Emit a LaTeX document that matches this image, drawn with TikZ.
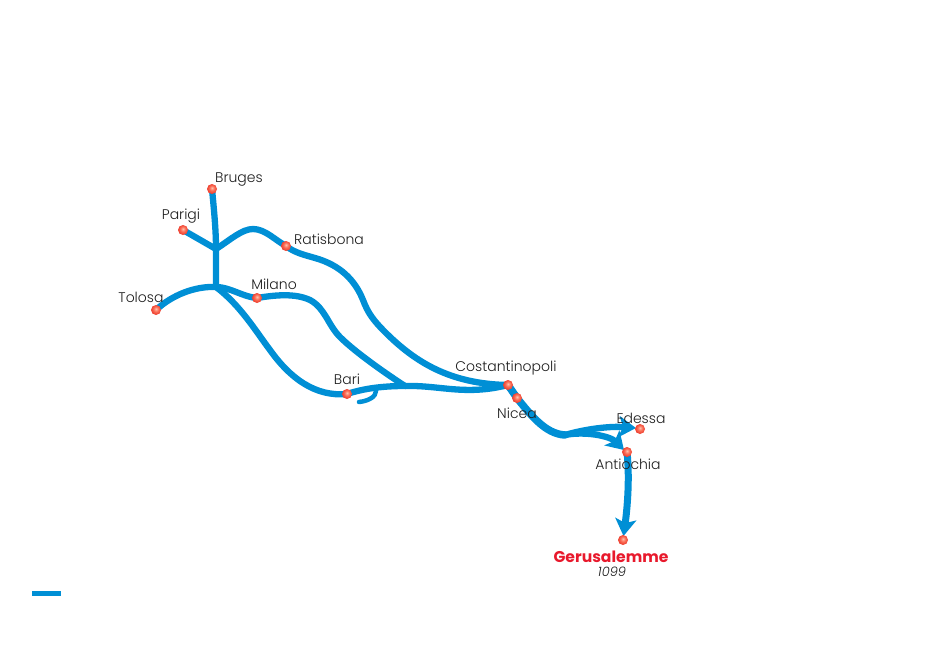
\documentclass[tikz,border=0pt]{standalone}
\usepackage{fontspec}
\setmainfont{Poppins Light}[BoldFont={Poppins Bold},ItalicFont={Poppins Light Italic}]
\usetikzlibrary{arrows.meta,backgrounds}
\definecolor{routeblue}{HTML}{008FD5}
\definecolor{titlered}{HTML}{E8192C}
\definecolor{labelgrey}{HTML}{1E1E1E}
\definecolor{ballcore}{HTML}{FFC4B0}
\definecolor{ballmid}{HTML}{FB6F58}
\definecolor{ballrim}{HTML}{EC3B2C}
\pgfdeclareradialshading{cityball}{\pgfpoint{0bp}{6bp}}{%
  color(0bp)=(ballcore);
  color(12bp)=(ballmid);
  color(26bp)=(ballrim);
  color(50bp)=(ballrim)}
\tikzset{
  city/.style={circle,minimum size=10pt,inner sep=0pt,shading=cityball},
  lab/.style={font=\fontsize{14}{16}\selectfont,text=labelgrey,inner sep=0pt},
  route/.style={draw=routeblue,line width=6.3pt,line cap=round,line join=round},
  headtip/.style={-{Stealth[length=17pt,width=21pt,inset=4pt]}}
}
\begin{document}
\begin{tikzpicture}[x=1pt,y=-1pt]
\useasboundingbox (0,0) rectangle (948,659);
\node[city] (bruges) at (212,189) {};
\node[city] (parigi) at (183,230) {};
\node[city] (ratisbona) at (286,246) {};
\node[city] (tolosa) at (156,310) {};
\node[city] (milano) at (257,298) {};
\node[city] (bari) at (347,394) {};
\node[city] (costantinopoli) at (508,385) {};
\node[city] (nicea) at (517,398) {};
\node[city] (edessa) at (640,429) {};
\node[city] (antiochia) at (627,452) {};
\node[city] (gerusalemme) at (623,540) {};
\coordinate (j1) at (216,249);
\coordinate (j2) at (216,287);
\coordinate (m) at (405,386);
\coordinate (fork) at (565,435);
\coordinate (edtip) at (636,428);
\coordinate (antip) at (624,450);
\coordinate (gertip) at (623.5,536);
\coordinate (hook) at (359,402);
\coordinate (hookstart) at (376,391);
\node[lab] (lbruges) at (239,179) {Bruges};
\node[lab] (lparigi) at (181,216) {Parigi};
\node[lab] (lratisbona) at (329,239) {Ratisbona};
\node[lab] (ltolosa) at (141,297) {Tolosa};
\node[lab] (lmilano) at (274,284) {Milano};
\node[lab] (lbari) at (347,379) {Bari};
\node[lab] (lcost) at (506,368) {Costantinopoli};
\node[lab] (lnicea) at (517,413) {Nicea};
\node[lab] (ledessa) at (641,418) {Edessa};
\node[lab] (lantiochia) at (628,464) {Antiochia};
\node[font=\fontsize{15.6}{16}\selectfont\bfseries,text=titlered,inner sep=0pt] (lger) at (611,557) {Gerusalemme};
\node[font=\fontsize{13}{14}\selectfont\itshape,text=labelgrey,inner sep=0pt] (lyear) at (612,572) {1099};
\fill[routeblue] (32,591) rectangle (61,596);
\begin{scope}[on background layer]
\draw[route] (bruges.center) .. controls (214,210) and (216,230) .. (j1) -- (j2);
\draw[route] (parigi.center) -- (j1);
\draw[route] (j1) .. controls (230,240) and (242,229) .. (253,229)
  .. controls (265,229) and (275,240) .. (ratisbona.center)
  .. controls (295,253) and (305,255) .. (315,258)
  .. controls (340,265) and (355,280) .. (363,300)
  .. controls (368,313) and (373,320) .. (385,332)
  .. controls (415,362) and (450,384) .. (costantinopoli.center);
\draw[route] (tolosa.center) .. controls (172,295) and (195,286) .. (j2)
  .. controls (230,287) and (243,297) .. (milano.center)
  .. controls (275,295) and (295,293) .. (310,300)
  .. controls (325,308) and (328,325) .. (340,337)
  .. controls (355,352) and (385,373) .. (m);
\draw[route] (j2) .. controls (240,305) and (255,330) .. (270,350)
  .. controls (290,378) and (315,397) .. (bari.center);
\draw[route] (bari.center) .. controls (365,388) and (385,386) .. (m)
  .. controls (440,385) and (465,396) .. (costantinopoli.center);
\draw[route,line width=4.5pt] (hookstart) .. controls (376,397) and (368,401) .. (hook);
\draw[route,line width=7.5pt] (costantinopoli.center) -- (nicea.center)
  .. controls (530,414) and (545,434) .. (fork);
\draw[route,headtip] (fork) .. controls (585,429) and (610,426) .. (edtip);
\draw[route,headtip] (fork) .. controls (585,431) and (610,436) .. (antip);
\draw[route,line width=7pt,headtip] (antiochia.center) .. controls (630,480) and (627,510) .. (gertip);
\end{scope}
\end{tikzpicture}
\end{document}
